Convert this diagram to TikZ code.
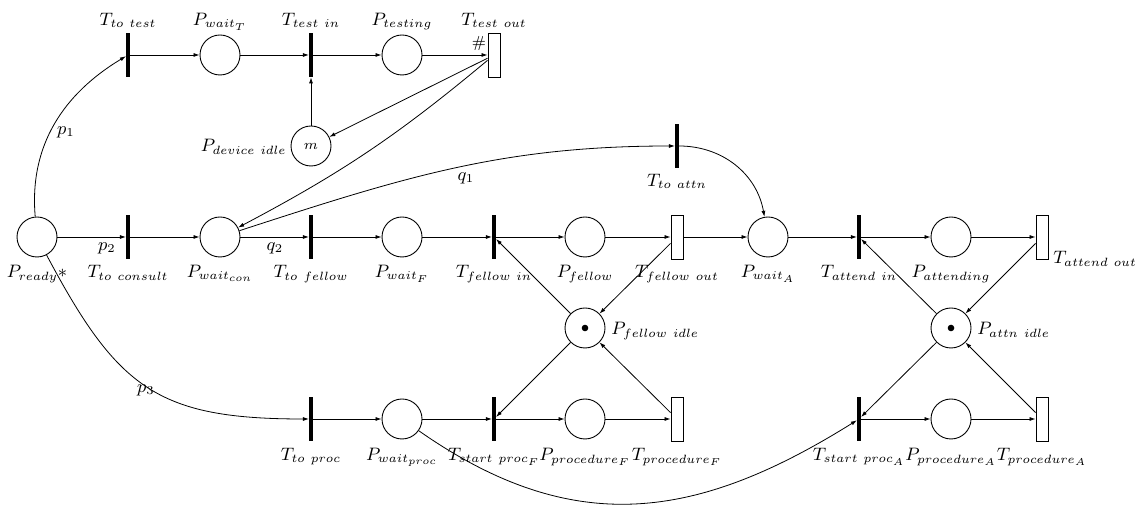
\documentclass[tikz,border=0pt]{standalone}
\usetikzlibrary{arrows.meta}
\begin{document}
\begin{tikzpicture}[x=0.5pt,y=0.5pt,font=\small,
  place/.style={circle,draw,line width=0.45pt,minimum size=20pt,inner sep=0pt},
  bar/.style={fill=black,draw=none,minimum width=1.65pt,minimum height=22pt,inner sep=0pt},
  timed/.style={draw,line width=0.45pt,fill=white,minimum width=6pt,minimum height=22pt,inner sep=0pt},
  arc/.style={line width=0.4pt,-{Latex[length=3pt,width=2pt]}},
  lbl/.style={inner sep=0pt,anchor=base},
  wlbl/.style={inner sep=0pt},
  token/.style={circle,fill=black,minimum size=3.3pt,inner sep=0pt}
]
\useasboundingbox (0,0) rectangle (1140,-506);

% main row
\node[place] (ready) at (37,-237) {};
\node[bar]   (tc)    at (128,-237) {};
\node[place] (wcon)  at (220,-237) {};
\node[bar]   (tf)    at (311,-237) {};
\node[place] (wf)    at (402,-237) {};
\node[bar]   (tfi)   at (494,-237) {};
\node[place] (pf)    at (585,-237) {};
\node[timed] (tfo)   at (677,-237) {};
\node[place] (wa)    at (768,-237) {};
\node[bar]   (tai)   at (859,-237) {};
\node[place] (pat)   at (951,-237) {};
\node[timed] (tao)   at (1042,-237) {};

% testing branch
\node[bar]   (tt)  at (128,-55) {};
\node[place] (wt)  at (220,-55) {};
\node[bar]   (tti) at (311,-55) {};
\node[place] (pt)  at (402,-55) {};
\node[timed] (tto) at (494,-55) {};
\node[place,font=\scriptsize] (pdi) at (311,-146) {$m$};
\node[bar]   (tta) at (677,-146) {};

% resource places
\node[place] (pfi) at (585,-328) {};
\node[token] (tokf) at (pfi) {};
\node[place] (pai) at (951,-328) {};
\node[token] (toka) at (pai) {};

% procedure row
\node[bar]   (tp)   at (311,-419) {};
\node[place] (wp)   at (402,-419) {};
\node[bar]   (tspf) at (494,-419) {};
\node[place] (ppf)  at (585,-419) {};
\node[timed] (tprf) at (677,-419) {};
\node[bar]   (tspa) at (859,-419) {};
\node[place] (ppa)  at (951,-419) {};
\node[timed] (tpra) at (1042,-419) {};

% labels of the main row
\node[lbl] (l-ready) at (37,-278) {$P_{ready}*$};
\node[lbl] (l-tc)    at (128,-278) {$T_{to\ consult}$};
\node[lbl] (l-wcon)  at (220,-278) {$P_{wait_{con}}$};
\node[lbl] (l-tf)    at (311,-278) {$T_{to\ fellow}$};
\node[lbl] (l-wf)    at (402,-278) {$P_{wait_F}$};
\node[lbl] (l-tfi)   at (494,-278) {$T_{fellow\ in}$};
\node[lbl] (l-pf)    at (585,-278) {$P_{fellow}$};
\node[lbl] (l-tfo)   at (677,-278) {$T_{fellow\ out}$};
\node[lbl] (l-wa)    at (768,-278) {$P_{wait_A}$};
\node[lbl] (l-tai)   at (859,-278) {$T_{attend\ in}$};
\node[lbl] (l-pat)   at (951,-278) {$P_{attending}$};
\node[lbl,anchor=base west] (l-tao) at (1053,-264) {$T_{attend\ out}$};

% labels of the testing branch
\node[lbl] (l-tt)  at (128,-26) {$T_{to\ test}$};
\node[lbl] (l-wt)  at (220,-26) {$P_{wait_T}$};
\node[lbl] (l-tti) at (311,-26) {$T_{test\ in}$};
\node[lbl] (l-pt)  at (402,-26) {$P_{testing}$};
\node[lbl] (l-tto) at (494,-26) {$T_{test\ out}$};
\node[wlbl,font=\footnotesize] (hash) at (479,-44) {\#};
\node[lbl,anchor=base east] (l-pdi) at (287,-152) {$P_{device\ idle}$};
\node[lbl] (l-tta) at (677,-187) {$T_{to\ attn}$};

% labels of the resource places
\node[lbl,anchor=base west] (l-pfi) at (611,-335) {$P_{fellow\ idle}$};
\node[lbl,anchor=base west] (l-pai) at (977,-335) {$P_{attn\ idle}$};

% labels of the procedure row
\node[lbl] (l-tp)   at (311,-461) {$T_{to\ proc}$};
\node[lbl] (l-wp)   at (402,-461) {$P_{wait_{proc}}$};
\node[lbl] (l-tspf) at (494,-461) {$T_{start\ proc_F}$};
\node[lbl] (l-ppf)  at (585,-461) {$P_{procedure_F}$};
\node[lbl] (l-tprf) at (677,-461) {$T_{procedure_F}$};
\node[lbl] (l-tspa) at (859,-461) {$T_{start\ proc_A}$};
\node[lbl] (l-ppa)  at (951,-461) {$P_{procedure_A}$};
\node[lbl] (l-tpra) at (1042,-461) {$T_{procedure_A}$};

% branch probabilities
\node[wlbl] (w-p1) at (66,-132) {$p_1$};
\node[wlbl] (w-p2) at (107,-248) {$p_2$};
\node[wlbl] (w-q2) at (275,-248) {$q_2$};
\node[wlbl] (w-q1) at (466,-178) {$q_1$};
\node[wlbl] (w-p3) at (146,-390) {$p_3$};

% arcs of the main row
\draw[arc] (ready) -- (tc);
\draw[arc] (tc) -- (wcon);
\draw[arc] (wcon) -- (tf);
\draw[arc] (tf) -- (wf);
\draw[arc] (wf) -- (tfi);
\draw[arc] (tfi) -- (pf);
\draw[arc] (pf) -- (tfo);
\draw[arc] (tfo) -- (wa);
\draw[arc] (wa) -- (tai);
\draw[arc] (tai) -- (pat);
\draw[arc] (pat) -- (tao);

% arcs of the testing branch
\draw[arc] (ready) to[out=95,in=211] (tt);
\draw[arc] (tt) -- (wt);
\draw[arc] (wt) -- (tti);
\draw[arc] (tti) -- (pt);
\draw[arc] (pt) -- (tto);
\draw[arc] (pdi) -- (tti);
\draw[arc] (tto) -- (pdi);
\draw[arc] (tto) to[bend left=6] (wcon);
\draw[arc] (wcon) to[out=18,in=180] (tta);
\draw[arc] (tta) to[out=0,in=100] (wa);

% arcs of the procedure row
\draw[arc] (ready) to[out=-62,in=180,looseness=1.25] (tp);
\draw[arc] (tp) -- (wp);
\draw[arc] (wp) -- (tspf);
\draw[arc] (tspf) -- (ppf);
\draw[arc] (ppf) -- (tprf);
\draw[arc] (wp) to[out=-35,in=212,looseness=1.1] (tspa);
\draw[arc] (tspa) -- (ppa);
\draw[arc] (ppa) -- (tpra);

% resource arcs
\draw[arc] (pfi) -- (tfi);
\draw[arc] (tfo) -- (pfi);
\draw[arc] (pfi) -- (tspf);
\draw[arc] (tprf) -- (pfi);
\draw[arc] (pai) -- (tai);
\draw[arc] (tao) -- (pai);
\draw[arc] (pai) -- (tspa);
\draw[arc] (tpra) -- (pai);
\end{tikzpicture}
\end{document}
